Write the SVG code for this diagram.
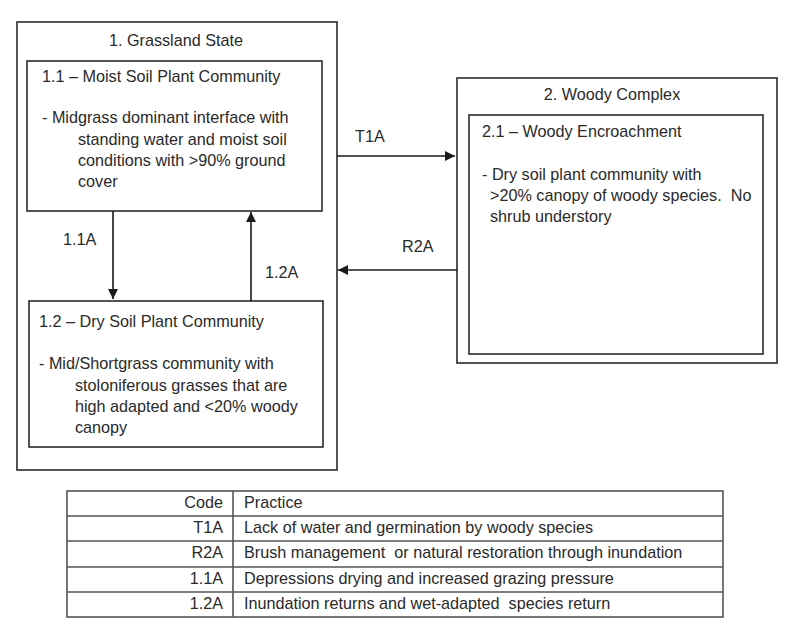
<svg xmlns="http://www.w3.org/2000/svg" width="800" height="631" viewBox="0 0 800 631">
<defs>
<style>
.box{fill:none;stroke:#2a2a2a;stroke-width:1.6}
.t{font-family:"Liberation Sans",Arial,sans-serif;font-size:16.2px;fill:#2a2a2a;white-space:pre}
.m{text-anchor:middle}
.e{text-anchor:end}
.ln{stroke:#1a1a1a;stroke-width:1.6;fill:none}
.tl{stroke:#555;stroke-width:1.6;fill:none}
</style>
<marker id="ah" viewBox="0 0 10 10" refX="10" refY="5" markerWidth="10" markerHeight="10" markerUnits="userSpaceOnUse" orient="auto">
<path d="M0,0 L10,5 L0,10 Z" fill="#1a1a1a"/>
</marker>
</defs>
<rect width="800" height="631" fill="#fff"/>

<g id="state1">
<rect class="box" x="17" y="22" width="320" height="448"/>
<text class="t m" x="176" y="46">1. Grassland State</text>
</g>
<g id="pc11">
<rect class="box" x="27" y="61" width="295" height="150"/>
<text class="t" x="42" y="82">1.1 – Moist Soil Plant Community</text>
<text class="t" x="42" y="123">- Midgrass dominant interface with</text>
<text class="t" x="78" y="145">standing water and moist soil</text>
<text class="t" x="78" y="166">conditions with &gt;90% ground</text>
<text class="t" x="78" y="187">cover</text>
</g>
<g id="pc12">
<rect class="box" x="29" y="301" width="294" height="146"/>
<text class="t" x="39" y="327">1.2 – Dry Soil Plant Community</text>
<text class="t" x="39" y="369">- Mid/Shortgrass community with</text>
<text class="t" x="75" y="391">stoloniferous grasses that are</text>
<text class="t" x="75" y="412">high adapted and &lt;20% woody</text>
<text class="t" x="75" y="433">canopy</text>
</g>
<g id="state2">
<rect class="box" x="457" y="78" width="320" height="285"/>
<text class="t m" x="612" y="100">2. Woody Complex</text>
</g>
<g id="pc21">
<rect class="box" x="469" y="115" width="294" height="239"/>
<text class="t" x="482" y="137">2.1 – Woody Encroachment</text>
<text class="t" x="482" y="180">- Dry soil plant community with</text>
<text class="t" x="490" y="201">&gt;20% canopy of woody species.  No</text>
<text class="t" x="490" y="222">shrub understory</text>
</g>

<g id="connectors">
<line class="ln" x1="113" y1="211" x2="113" y2="299" marker-end="url(#ah)"/>
<text class="t" x="63" y="245">1.1A</text>
<line class="ln" x1="251" y1="301" x2="251" y2="212" marker-end="url(#ah)"/>
<text class="t" x="265" y="278">1.2A</text>
<line class="ln" x1="337" y1="156" x2="455" y2="156" marker-end="url(#ah)"/>
<text class="t" x="355" y="142">T1A</text>
<line class="ln" x1="457" y1="270" x2="338" y2="270" marker-end="url(#ah)"/>
<text class="t" x="402" y="252">R2A</text>
</g>

<g id="table">
<rect class="tl" x="67" y="491" width="656" height="126"/>
<line class="tl" x1="67" y1="516" x2="723" y2="516"/>
<line class="tl" x1="67" y1="541" x2="723" y2="541"/>
<line class="tl" x1="67" y1="567" x2="723" y2="567"/>
<line class="tl" x1="67" y1="592" x2="723" y2="592"/>
<line class="tl" x1="233" y1="491" x2="233" y2="617"/>
<text class="t e" x="223" y="508">Code</text>
<text class="t" x="244" y="508">Practice</text>
<text class="t e" x="223" y="533">T1A</text>
<text class="t" x="244" y="533">Lack of water and germination by woody species</text>
<text class="t e" x="223" y="558">R2A</text>
<text class="t" x="244" y="558">Brush management  or natural restoration through inundation</text>
<text class="t e" x="223" y="584">1.1A</text>
<text class="t" x="244" y="584">Depressions drying and increased grazing pressure</text>
<text class="t e" x="223" y="609">1.2A</text>
<text class="t" x="244" y="609">Inundation returns and wet-adapted  species return</text>
</g>
</svg>
